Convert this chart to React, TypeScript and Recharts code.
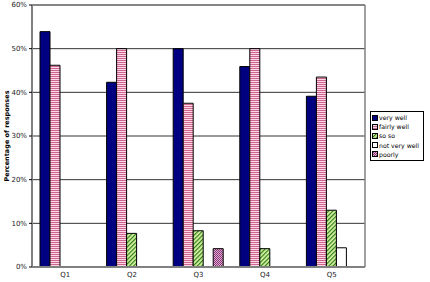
import React from 'react';
import { BarChart, Bar, XAxis, YAxis, CartesianGrid } from 'recharts';

const questions = ['Q1', 'Q2', 'Q3', 'Q4', 'Q5'];
const veryWell = [0.539, 0.423, 0.5, 0.459, 0.391];
const fairlyWell = [0.462, 0.5, 0.375, 0.5, 0.435];
const soSo = [null, 0.077, 0.083, 0.042, 0.13];
const notVeryWell = [null, null, null, null, 0.044];
const poorly = [null, null, 0.042, null, null];
const yTicks = [0, 0.1, 0.2, 0.3, 0.4, 0.5, 0.6];

const data = questions.map((q, i) => ({
  q,
  veryWell: veryWell[i],
  fairlyWell: fairlyWell[i],
  soSo: soSo[i],
  notVeryWell: notVeryWell[i],
  poorly: poorly[i],
}));

const series = [
  { key: 'veryWell', name: 'very well', fill: '#000080' },
  { key: 'fairlyWell', name: 'fairly well', fill: 'url(#hstripe)' },
  { key: 'soSo', name: 'so so', fill: 'url(#diag)' },
  { key: 'notVeryWell', name: 'not very well', fill: '#ffffff' },
  { key: 'poorly', name: 'poorly', fill: 'url(#check)' },
];

const font = 'Verdana, "DejaVu Sans", sans-serif';

const LegendBox = () => (
  <div style={{ position: 'absolute', left: 370, top: 111, width: 49, border: '1px solid #000', background: '#fff', padding: '1px 2px 1px 1px', fontFamily: font, fontSize: 6.2, lineHeight: '9.2px', color: '#000' }}>
    {series.map((s) => (
      <div key={s.key} style={{ display: 'flex', alignItems: 'center', whiteSpace: 'nowrap' }}>
        <svg width={6} height={6} style={{ marginRight: 1 }}>
          <rect x={0.5} y={0.5} width={5} height={5} fill={s.fill} stroke="#000" strokeWidth={1} />
        </svg>
        {s.name}
      </div>
    ))}
  </div>
);

export default function App() {
  return (
    <div style={{ position: 'absolute', left: 0, top: 0, width: 430, height: 282, background: '#fff' }}>
      <BarChart width={430} height={282} data={data} margin={{ top: 5, right: 65, left: 0, bottom: 0 }} barCategoryGap={8} barGap={0}>
        <defs>
          <pattern id="hstripe" width={4} height={2} patternUnits="userSpaceOnUse">
            <rect width={4} height={2} fill="#ffd6e4" />
            <rect width={4} height={1} fill="#cc6690" />
          </pattern>
          <pattern id="diag" width={3} height={3} patternUnits="userSpaceOnUse" patternTransform="rotate(45)">
            <rect width={3} height={3} fill="#d8f5a0" />
            <rect width={1.2} height={3} fill="#2f7a20" />
          </pattern>
          <pattern id="check" width={2} height={2} patternUnits="userSpaceOnUse">
            <rect width={2} height={2} fill="#e0a8d8" />
            <rect width={1} height={1} fill="#8a3a70" />
            <rect x={1} y={1} width={1} height={1} fill="#8a3a70" />
          </pattern>
        </defs>
        <CartesianGrid vertical={false} stroke="#333" strokeWidth={1} />
        <XAxis dataKey="q" height={15} tickLine={false} tickSize={0} axisLine={{ stroke: '#808080', strokeWidth: 2 }} tick={{ fontSize: 7, fill: '#222', fontFamily: font }} tickMargin={5} />
        <YAxis
          width={32}
          domain={[0, 0.6]}
          ticks={yTicks}
          tickFormatter={(v) => `${Math.round(v * 100)}%`}
          tick={{ fontSize: 7, fill: '#222', fontFamily: font }}
          tickSize={3}
          tickMargin={2}
          axisLine={{ stroke: '#808080', strokeWidth: 2 }}
          tickLine={{ stroke: '#000' }}
        />
        {series.map((s) => (
          <Bar key={s.key} dataKey={s.key} name={s.name} fill={s.fill} stroke="#000" strokeWidth={1} isAnimationActive={false} />
        ))}
        <line x1={365} y1={5} x2={365} y2={267} stroke="#808080" strokeWidth={1.5} />
        <line x1={32} y1={5} x2={365} y2={5} stroke="#808080" strokeWidth={1.5} />
      </BarChart>
      <div style={{ position: 'absolute', left: 7, top: 136, transform: 'translate(-50%, -50%) rotate(-90deg)', whiteSpace: 'nowrap', fontFamily: font, fontSize: 6.5, fontWeight: 'bold', color: '#000' }}>
        Percentage of responses
      </div>
      <LegendBox />
    </div>
  );
}
